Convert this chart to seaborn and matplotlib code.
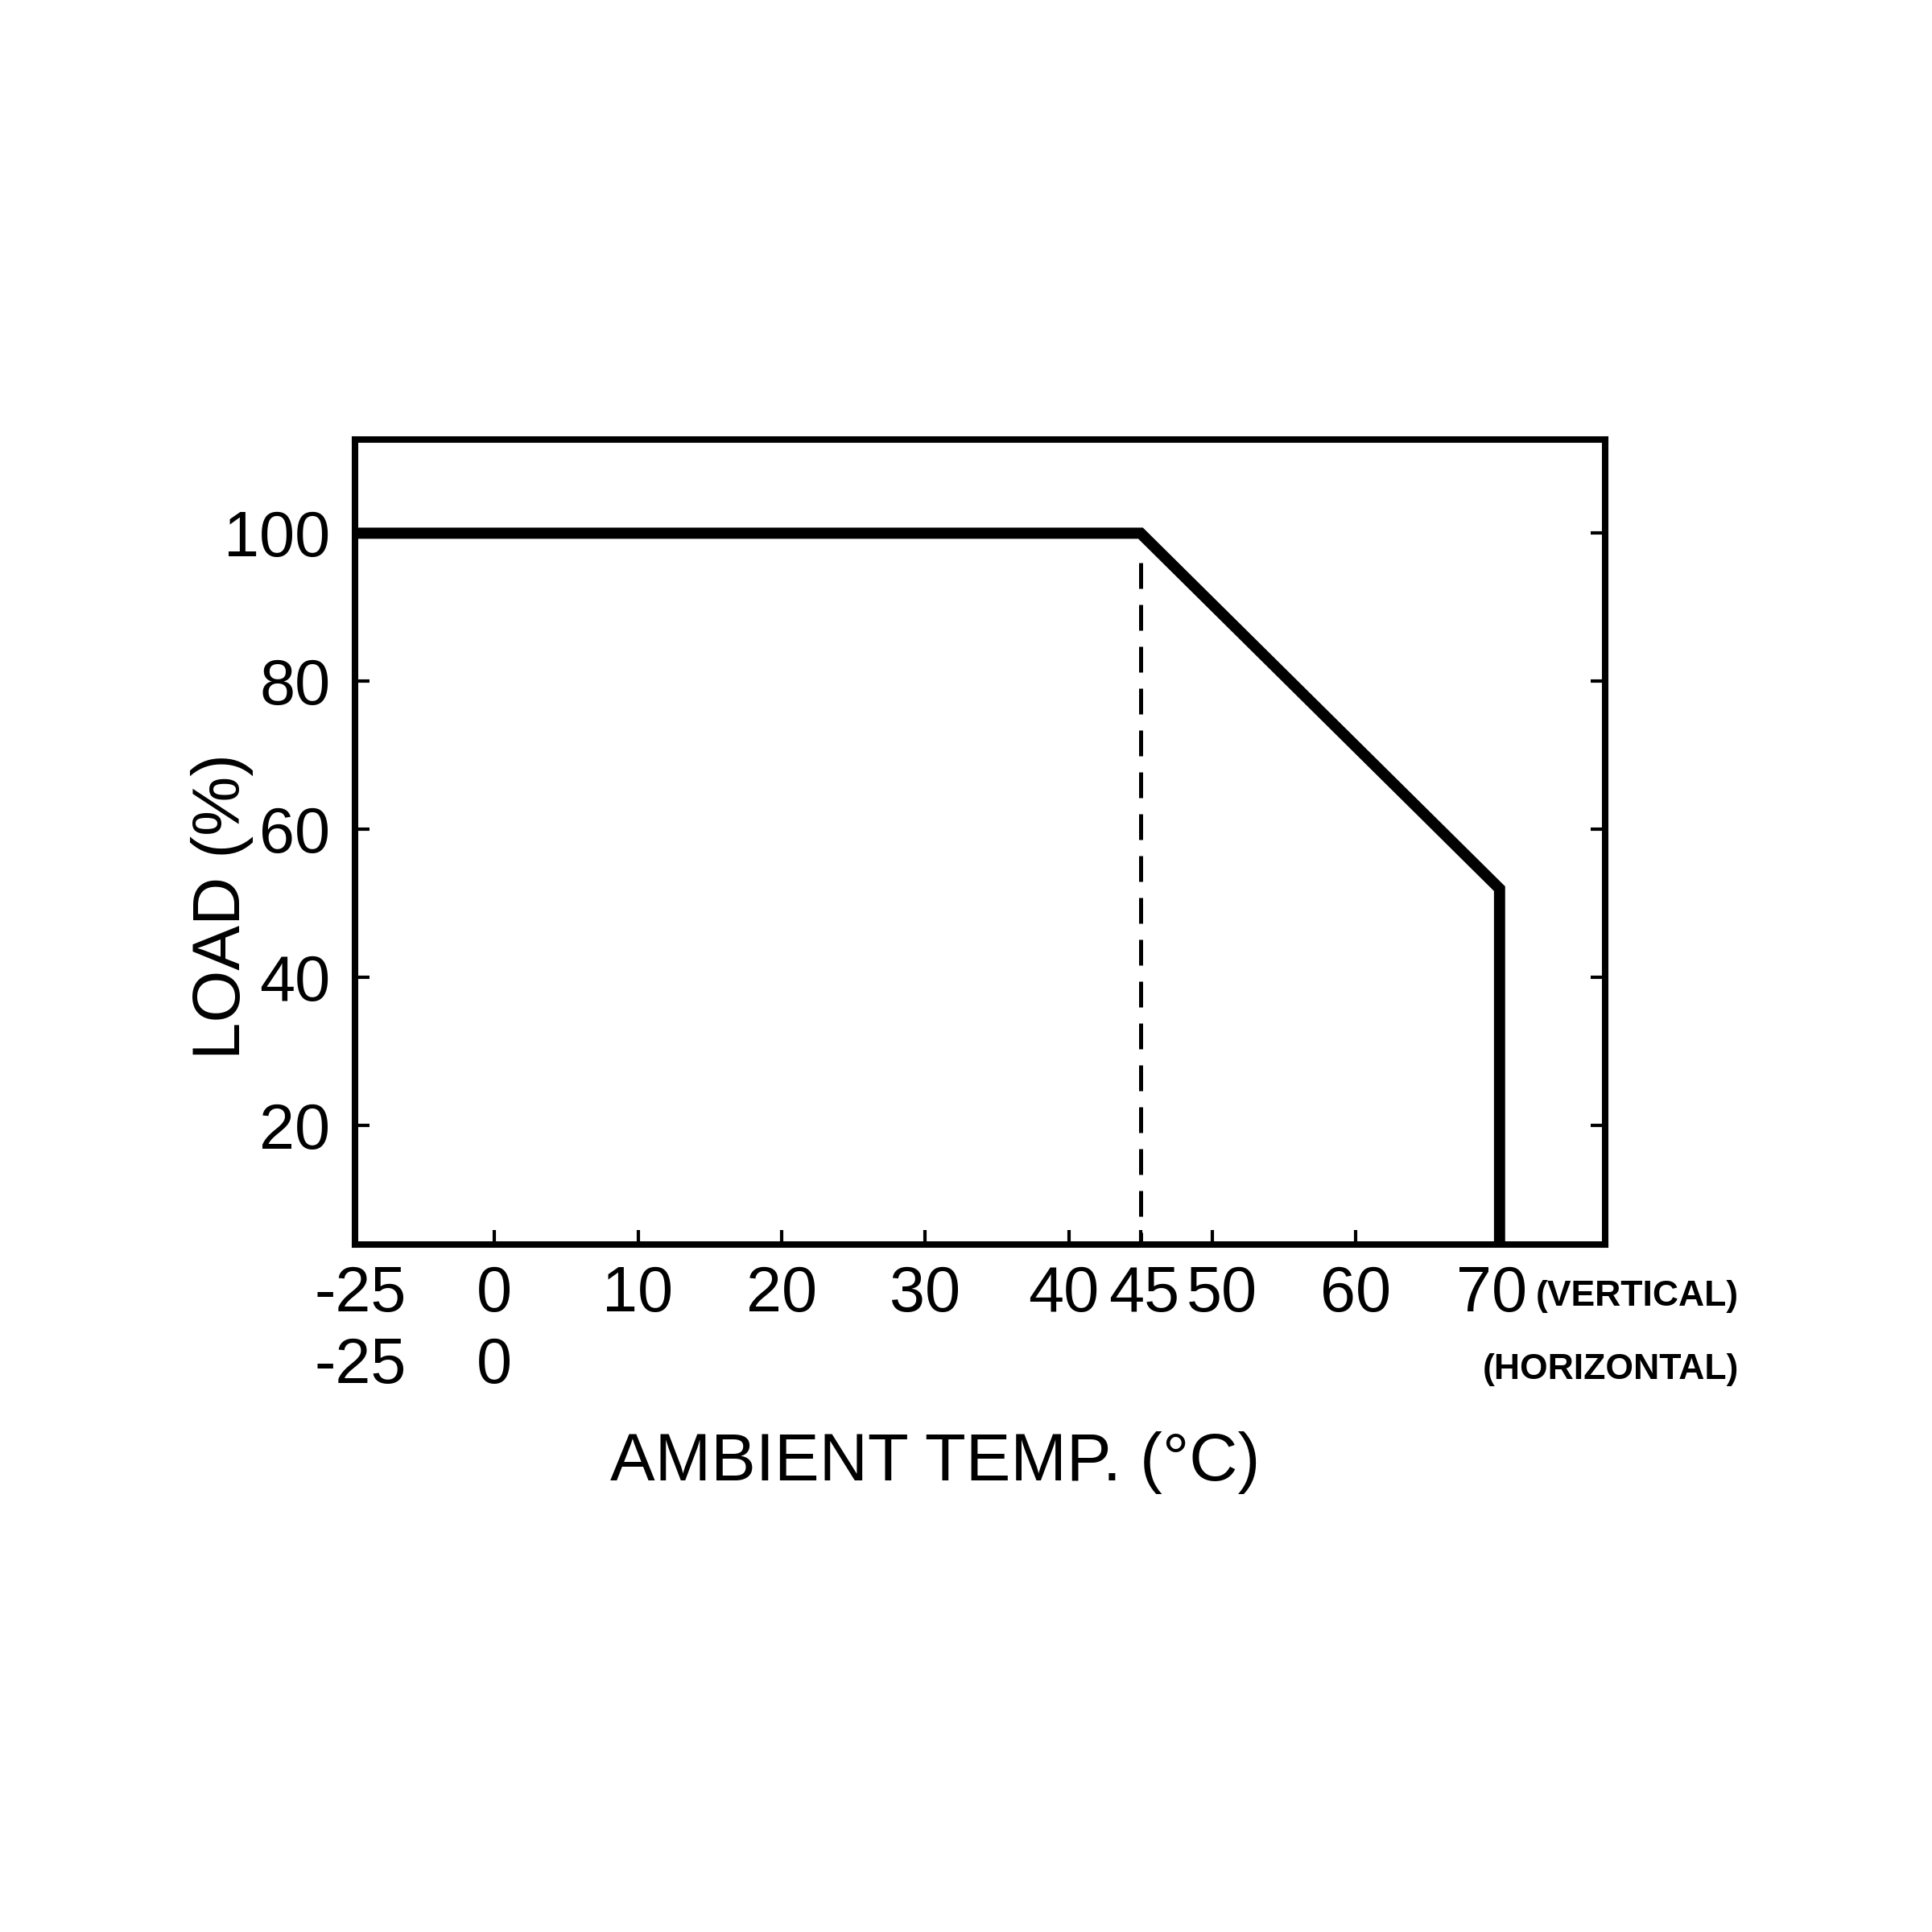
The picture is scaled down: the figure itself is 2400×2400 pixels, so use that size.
import numpy as np
import pandas as pd
import matplotlib
matplotlib.use("Agg")
import matplotlib.pyplot as plt
import matplotlib.transforms as mtransforms
import seaborn as sns

# ---- data ----
temp_c = [-25, 45, 70, 70]
load_pct = [100, 100, 52, 0]
guide_temp = [45, 45]
guide_load = [96, 0]
x_ticks = [-25, 0, 10, 20, 30, 40, 45, 50, 60, 70]
x_tick_labels = ["-25\n-25", "0\n0", "10", "20", "30", "40", "45", "50", "60", "70"]
y_ticks = [20, 40, 60, 80, 100]
y_tick_labels = ["20", "40", "60", "80", "100"]

sns.set_style("ticks")
plt.rcParams['font.family'] = ['Liberation Sans', 'DejaVu Sans']
plt.rcParams['text.color'] = 'black'
plt.rcParams['xtick.color'] = 'black'
plt.rcParams['ytick.color'] = 'black'
plt.rcParams['xtick.labelcolor'] = 'black'
plt.rcParams['ytick.labelcolor'] = 'black'

fig = plt.figure(figsize=(12, 12), dpi=200)
ax = fig.add_axes([0.1838, 0.356, 0.647, 0.4167])

NEG = 0.388
def fwd(x):
    x = np.asarray(x, dtype=float)
    return np.where(x < 0, x * NEG, x)
def inv(y):
    y = np.asarray(y, dtype=float)
    return np.where(y < 0, y / NEG, y)
ax.set_xscale('function', functions=(fwd, inv))

df = pd.DataFrame({"temp": temp_c, "load": load_pct})
sns.lineplot(data=df, x="temp", y="load", estimator=None, sort=False, ax=ax,
             color="black", linewidth=5, solid_joinstyle='miter', solid_capstyle='butt')
g = pd.DataFrame({"temp": guide_temp, "load": guide_load})
sns.lineplot(data=g, x="temp", y="load", estimator=None, sort=False, ax=ax,
             color="black", linewidth=1.8, dashes=False)
ax.lines[-1].set_dashes((6.4, 4))

ax.set_xlim(-25, 77.35)
ax.set_ylim(4, 112.7)

ax.set_xticks(x_ticks)
ax.set_xticklabels(x_tick_labels, fontsize=28.5, linespacing=1.25)
ax.set_yticks(y_ticks)
ax.set_yticklabels(y_tick_labels, fontsize=28.5)
ax.xaxis.set_minor_locator(matplotlib.ticker.NullLocator())
ax.tick_params(axis='x', direction='in', length=6.5, width=1.5, pad=9, top=False, bottom=True)
ax.tick_params(axis='y', direction='in', length=6.5, width=1.5, pad=11, left=True, right=True)

# small per-label nudges (in inches) to mimic the reference's spacing
nudges = {"-25\n-25": 0.035, "40": -0.03, "45": 0.02, "50": 0.06, "70": -0.05}
for lab in ax.get_xticklabels():
    dx = nudges.get(lab.get_text(), 0.0)
    if dx:
        lab.set_transform(lab.get_transform() +
                          mtransforms.ScaledTranslation(dx, 0, fig.dpi_scale_trans))

for s in ax.spines.values():
    s.set_linewidth(2.9)
    s.set_color("black")

ax.set_xlabel("")
ax.set_ylabel("")
fig.text(0.484, 0.243, "AMBIENT TEMP. (°C)", fontsize=30, ha='center', va='center')
fig.text(0.115, 0.531, "LOAD (%)", fontsize=30, ha='center', va='center', rotation=90)
fig.text(0.90, 0.329, "(VERTICAL)", fontsize=16, fontweight='bold', ha='right', va='center')
fig.text(0.90, 0.291, "(HORIZONTAL)", fontsize=16, fontweight='bold', ha='right', va='center')

fig.savefig("out.png", dpi=200, facecolor="white")
